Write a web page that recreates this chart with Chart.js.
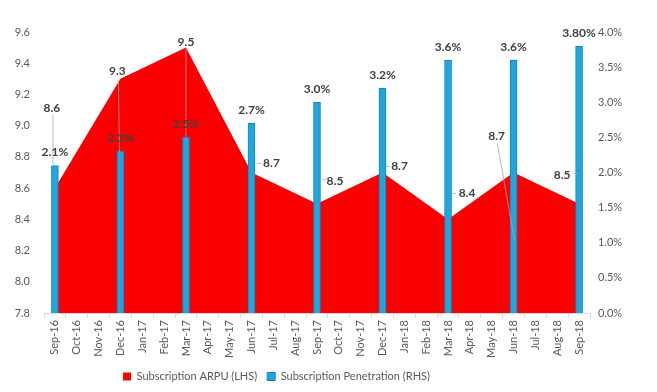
<!DOCTYPE html>
<html>
<head>
<meta charset="utf-8">
<script src="https://cdn.jsdelivr.net/npm/chart.js@4"></script>
<style>
  html, body { margin: 0; padding: 0; background: #fff; }
  #wrap { width: 657px; height: 392px; }
</style>
</head>
<body>
<div id="wrap"><canvas id="c"></canvas></div>
<script>
// monthly axis labels
const months = ['Sep-16','Oct-16','Nov-16','Dec-16','Jan-17','Feb-17','Mar-17','Apr-17','May-17',
  'Jun-17','Jul-17','Aug-17','Sep-17','Oct-17','Nov-17','Dec-17','Jan-18','Feb-18','Mar-18',
  'Apr-18','May-18','Jun-18','Jul-18','Aug-18','Sep-18'];
// quarterly readings
const quarters = ['Sep-16','Dec-16','Mar-17','Jun-17','Sep-17','Dec-17','Mar-18','Jun-18','Sep-18'];
const arpu = [8.6, 9.3, 9.5, 8.7, 8.5, 8.7, 8.4, 8.7, 8.5];
const penetration = [2.1, 2.3, 2.5, 2.7, 3.0, 3.2, 3.6, 3.6, 3.8];
const penLabels = ['2.1%','2.3%','2.5%','2.7%','3.0%','3.2%','3.6%','3.6%','3.80%'];

// label placement relative to the ARPU point: [dx, dy, leader line or null]
const arpuLabelPos = [
  [-3, -80, [-2, -73, -2, -24]],
  [-3, -8, [-2, 2, -1, 74]],
  [0, -5, [0, 0, 0, 90]],
  [20, -9, [6, -9, 10, -9]],
  [18, -23, [5, -24, 9, -24]],
  [17, -6, [3, -6, 7, -6]],
  [19, -26, [4, -26, 8, -26]],
  [-17, -36, [-16, -28, 1, 68]],
  [-17, -29, [-5, -30, -1, -30]]
];

const toMonthly = vals => months.map(m => {
  const i = quarters.indexOf(m);
  return i >= 0 ? vals[i] : null;
});

const labelsPlugin = {
  id: 'valueLabels',
  afterDatasetsDraw(chart) {
    const ctx = chart.ctx;
    const metaA = chart.getDatasetMeta(0);
    const metaB = chart.getDatasetMeta(1);
    ctx.save();
    ctx.font = 'bold 12px Lato, "Liberation Sans", sans-serif';
    ctx.fillStyle = '#404040';
    ctx.textAlign = 'center';
    ctx.textBaseline = 'middle';
    quarters.forEach((q, i) => {
      const idx = months.indexOf(q);
      const p = metaA.data[idx];
      const pos = arpuLabelPos[i];
      if (pos[2]) {
        const l = pos[2];
        ctx.strokeStyle = '#a6a6a6';
        ctx.lineWidth = 0.8;
        ctx.beginPath();
        ctx.moveTo(p.x + l[0], p.y + l[1]);
        ctx.lineTo(p.x + l[2], p.y + l[3]);
        ctx.stroke();
      }
      ctx.fillText(arpu[i].toFixed(1), p.x + pos[0], p.y + pos[1]);
      const b = metaB.data[idx];
      ctx.fillText(penLabels[i], b.x, b.y - 13);
    });
    ctx.restore();
  }
};

const legendShift = {
  id: 'legendShift',
  afterLayout(chart) {
    chart.legend.left -= 52;
    chart.legend.right -= 52;
  }
};

new Chart(document.getElementById('c'), {
  data: {
    labels: months,
    datasets: [
      {
        type: 'line',
        label: 'Subscription ARPU (LHS)',
        data: toMonthly(arpu),
        yAxisID: 'y',
        spanGaps: true,
        fill: 'start',
        backgroundColor: '#fb0000',
        borderColor: '#f00000',
        borderWidth: 0,
        pointRadius: 0,
        tension: 0,
        order: 2
      },
      {
        type: 'bar',
        label: 'Subscription Penetration (RHS)',
        data: toMonthly(penetration),
        yAxisID: 'y1',
        backgroundColor: '#1ea6dd',
        borderColor: '#0f86bf',
        borderWidth: 1,
        barThickness: 7,
        order: 1
      }
    ]
  },
  options: {
    responsive: true,
    maintainAspectRatio: false,
    animation: false,
    layout: { padding: { top: 32, bottom: 0, left: 0, right: 0 } },
    plugins: {
      legend: {
        position: 'bottom',
        labels: {
          boxWidth: 8,
          boxHeight: 8,
          padding: 10,
          color: '#595959',
          font: { family: 'Lato, "Liberation Sans", sans-serif', size: 11 },
          sort: (a, b) => a.datasetIndex - b.datasetIndex
        }
      },
      tooltip: { enabled: false }
    },
    scales: {
      x: {
        offset: true,
        grid: { offset: true, drawOnChartArea: false, drawTicks: true, tickLength: 5, color: '#d9d9d9' },
        border: { color: '#d9d9d9' },
        ticks: {
          autoSkip: false,
          maxRotation: 90,
          minRotation: 90,
          color: '#595959',
          padding: 2,
          font: { family: 'Lato, "Liberation Sans", sans-serif', size: 11 }
        },
        afterFit(s) { s.height = 48; }
      },
      y: {
        position: 'left',
        min: 7.8,
        max: 9.6,
        grid: { display: false },
        border: { display: false },
        ticks: {
          stepSize: 0.2,
          color: '#595959',
          padding: 6,
          callback: v => v.toFixed(1),
          font: { family: 'Lato, "Liberation Sans", sans-serif', size: 11 }
        },
        afterFit(s) { s.width = 44; }
      },
      y1: {
        position: 'right',
        min: 0,
        max: 4,
        grid: { display: false },
        border: { display: false },
        ticks: {
          stepSize: 0.5,
          color: '#595959',
          padding: 0,
          callback: v => v.toFixed(1) + '%',
          font: { family: 'Lato, "Liberation Sans", sans-serif', size: 11 }
        },
        afterFit(s) { s.width = 67; }
      }
    }
  },
  plugins: [labelsPlugin, legendShift]
});
</script>
</body>
</html>
